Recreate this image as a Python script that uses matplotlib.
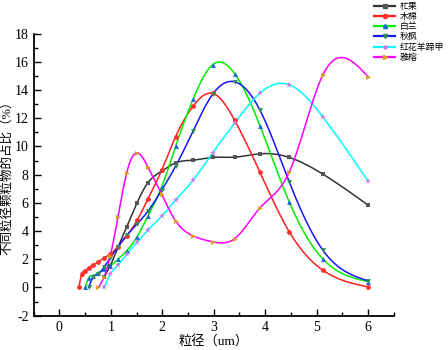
import numpy as np
import matplotlib
matplotlib.use("Agg")
import matplotlib.pyplot as plt
from matplotlib.ticker import MultipleLocator

plt.rcParams['font.family'] = ['Liberation Serif', 'Noto Sans CJK SC']
plt.rcParams['axes.unicode_minus'] = False

# particle size bins (um)
sizes = [0.38, 0.44, 0.50, 0.57, 0.66, 0.76, 0.87, 0.99, 1.14, 1.31, 1.51,
         1.72, 1.99, 2.26, 2.60, 2.98, 3.41, 3.90, 4.47, 5.12, 6.00]

labels = ["杧果", "木棉", "白兰", "秋枫", "红花羊蹄甲", "雅榕"]

# share (%) per bin, series start at different bins
mango = [0.75, 1.55, 2.85, 4.3, 6.0, 7.42, 8.25, 8.84, 9.03, 9.22, 9.24, 9.48, 9.22, 8.04, 5.84]
kapok = [0.0, 0.99, 1.18, 1.39, 1.6, 1.82, 2.1, 2.36, 2.9, 3.66, 4.75, 6.26, 8.32, 10.7, 12.86,
         13.76, 11.84, 8.16, 3.94, 1.23, 0.04]
bailan = [0.0, 0.68, 0.85, 1.05, 1.3, 1.53, 2.0, 2.6, 3.6, 5.05, 7.14, 10.0, 13.35, 15.8, 15.15,
          11.46, 6.05, 2.03, 0.42]
qiufeng = [0.0, 0.75, 0.95, 1.45, 2.1, 2.9, 3.7, 4.5, 5.4, 6.9, 8.6, 11.1, 13.7, 14.58, 12.57,
           7.47, 2.65, 0.47]
bauhinia = [0.0, 0.94, 1.58, 2.36, 3.19, 4.06, 5.06, 6.19, 7.61, 9.55, 11.67, 13.78, 14.37, 12.1, 7.54]
yarong = [0.0, 0.75, 2.24, 5.0, 8.13, 9.55, 8.55, 6.6, 4.72, 3.66, 3.24, 3.47, 5.65, 8.2, 15.06, 14.94]

series = [mango, kapok, bailan, qiufeng, bauhinia, yarong]
line_colors = ["#333333", "#ff2020", "#00ee00", "#1515ff", "#00ffff", "#ff00ff"]
mark_colors = ["#555555", "#ff3030", "#1a66dd", "#2e8b57", "#cc77dd", "#d9a010"]
markers = ["s", "o", "^", "v", "*", ">"]


def natural_spline(x, y, n=400):
    x = np.asarray(x, float)
    y = np.asarray(y, float)
    k = len(x)
    h = np.diff(x)
    A = np.zeros((k, k))
    b = np.zeros(k)
    A[0, 0] = 1
    A[-1, -1] = 1
    for i in range(1, k - 1):
        A[i, i - 1] = h[i - 1]
        A[i, i] = 2 * (h[i - 1] + h[i])
        A[i, i + 1] = h[i]
        b[i] = 6 * ((y[i + 1] - y[i]) / h[i] - (y[i] - y[i - 1]) / h[i - 1])
    M = np.linalg.solve(A, b)
    xs = np.linspace(x[0], x[-1], n)
    idx = np.clip(np.searchsorted(x, xs) - 1, 0, k - 2)
    x0, x1 = x[idx], x[idx + 1]
    hh = x1 - x0
    ys = (M[idx] * (x1 - xs) ** 3 / (6 * hh) + M[idx + 1] * (xs - x0) ** 3 / (6 * hh)
          + (y[idx] / hh - M[idx] * hh / 6) * (x1 - xs)
          + (y[idx + 1] / hh - M[idx + 1] * hh / 6) * (xs - x0))
    return xs, ys


fig = plt.figure(figsize=(4.48, 3.5), dpi=100)
ax = fig.add_axes([0.075, 0.098, 0.804, 0.806])

for vals, lab, lc, mc, mk in zip(series, labels, line_colors, mark_colors, markers):
    xs = sizes[len(sizes) - len(vals):]
    sx, sy = natural_spline(xs, vals)
    ax.plot(sx, sy, color=lc, lw=1.1, zorder=2)
    ax.plot(xs, vals, ls="none", marker=mk, color=mc, ms=3.5 if mk != "*" else 4.5,
            mew=0, zorder=3)
    ax.plot([], [], color=lc, lw=1.6, marker=mk, mfc=mc, mec=mc, ms=3, label=lab)

ax.set_xlim(-0.5, 6.5)
ax.set_ylim(-2, 18)
ax.xaxis.set_major_locator(MultipleLocator(1))
ax.xaxis.set_minor_locator(MultipleLocator(0.5))
ax.yaxis.set_major_locator(MultipleLocator(2))
ax.yaxis.set_minor_locator(MultipleLocator(1))
ax.set_xticks(range(0, 7))
ax.tick_params(which="both", direction="in", labelsize=10, width=1)
ax.tick_params(which="major", length=5)
ax.tick_params(which="minor", length=3)
for s in ["top", "right"]:
    ax.spines[s].set_visible(False)
for s in ["left", "bottom"]:
    ax.spines[s].set_linewidth(1.3)

ax.set_xlabel("粒径（um）", fontsize=9.5, labelpad=1)
ax.set_ylabel("不同粒径颗粒物的占比（%）", fontsize=9, labelpad=1)

fig.legend(loc="upper left", bbox_to_anchor=(0.829, 1.0), frameon=False,
           fontsize=6.4, handlelength=2.4, handletextpad=0.45, labelspacing=0.2,
           borderpad=0.2, borderaxespad=0.1)

fig.savefig("out.png", dpi=100)
